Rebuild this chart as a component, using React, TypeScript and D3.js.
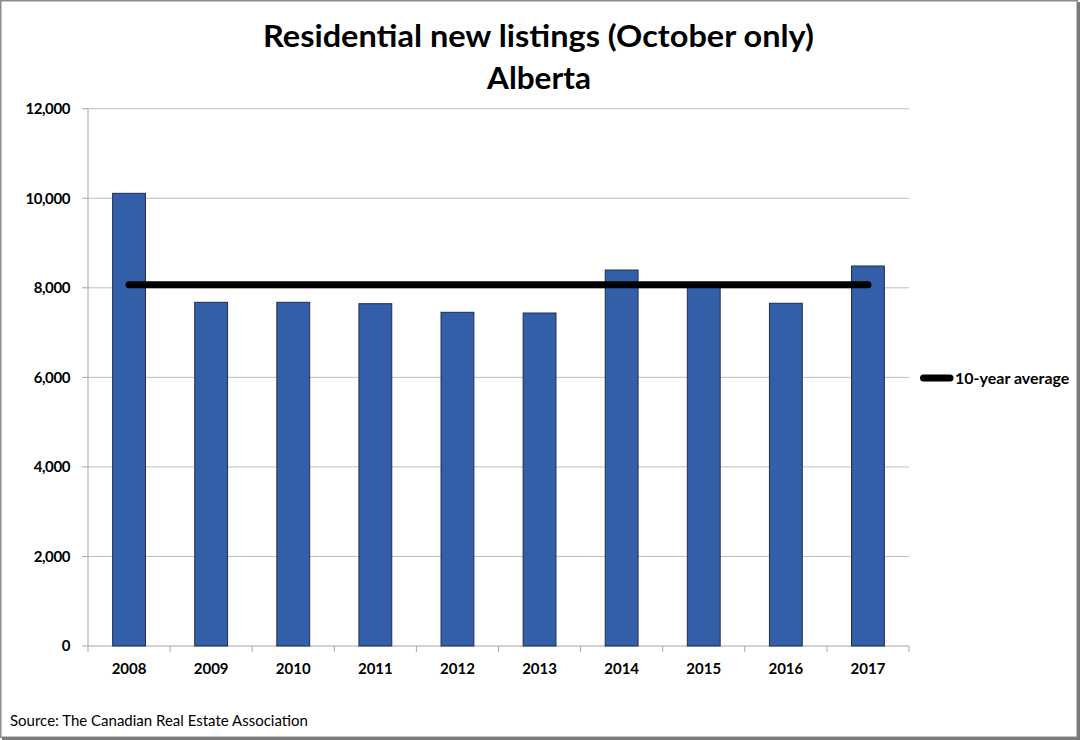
import React from "react";
import * as d3 from "d3";

const years = ["2008", "2009", "2010", "2011", "2012", "2013", "2014", "2015", "2016", "2017"];
const newListings = [10110, 7676, 7676, 7645, 7453, 7437, 8397, 8080, 7654, 8487];
const tenYearAverage = 8069;
const yTicks = [0, 2000, 4000, 6000, 8000, 10000, 12000];
const titleLines = ["Residential new listings (October only)", "Alberta"];
const legendLabel = "10-year average";
const sourceText = "Source: The Canadian Real Estate Association";

const W = 1080;
const H = 740;
const FONT = "Lato, 'Open Sans', sans-serif";

export default function App() {
  const left = 88, right = 909, top = 108.7, bottom = 646;
  const x = d3.scaleBand<string>().domain(years).range([left, right]).paddingInner(0.6).paddingOuter(0.3);
  const y = d3.scaleLinear().domain([0, 12000]).range([bottom, top]);
  const fmt = d3.format(",");
  const step = x.step();
  const first = x(years[0])! + x.bandwidth() / 2;
  const last = x(years[years.length - 1])! + x.bandwidth() / 2;
  const avgLine = d3.line<number>()((
    [[first, y(tenYearAverage)], [last, y(tenYearAverage)]] as any
  ));

  return (
    <div style={{ position: "absolute", left: 0, top: 0 }}>
      <svg width={W} height={H} style={{ display: "block" }} fontFamily={FONT}>
        <rect x={0} y={0} width={W} height={H} fill="#ffffff" />
        {/* frame */}
        <rect x={0.75} y={0.75} width={W - 3.5} height={H - 3.5} fill="none" stroke="#8c8c8c" strokeWidth={1.5} />
        <line x1={W - 1.5} y1={2} x2={W - 1.5} y2={H} stroke="#7a7a7a" strokeWidth={3} />
        <line x1={2} y1={H - 1.5} x2={W} y2={H - 1.5} stroke="#7a7a7a" strokeWidth={3} />

        {/* title */}
        <text x={538.5} y={47} textAnchor="middle" fontSize={31} fontWeight={700} fill="#000"
          textLength={551} lengthAdjust="spacingAndGlyphs">{titleLines[0]}</text>
        <text x={539} y={89} textAnchor="middle" fontSize={31} fontWeight={700} fill="#000"
          textLength={104} lengthAdjust="spacingAndGlyphs">{titleLines[1]}</text>

        {/* gridlines */}
        {yTicks.map((t) => (
          <g key={t}>
            {t > 0 && (
              <line x1={left} x2={right} y1={y(t)} y2={y(t)} stroke="#bfbfbf" strokeWidth={1} />
            )}
            <line x1={left - 6} x2={left} y1={y(t)} y2={y(t)} stroke="#a6a6a6" strokeWidth={1} />
            <text x={70} y={y(t)} dy="0.35em" textAnchor="end" fontSize={15} fontWeight={700} fill="#000"
              letterSpacing={-0.4}>
              {fmt(t)}
            </text>
          </g>
        ))}

        {/* axes */}
        <line x1={left} x2={left} y1={top} y2={bottom} stroke="#a6a6a6" strokeWidth={1} />
        <line x1={left} x2={right} y1={bottom} y2={bottom} stroke="#a6a6a6" strokeWidth={1} />
        {d3.range(years.length + 1).map((i) => {
          const xx = left + i * step;
          return <line key={i} x1={xx} x2={xx} y1={bottom} y2={bottom + 6} stroke="#a6a6a6" strokeWidth={1} />;
        })}
        {years.map((yr) => (
          <text key={yr} x={x(yr)! + x.bandwidth() / 2} y={674} textAnchor="middle" fontSize={15} fontWeight={700} fill="#000">
            {yr}
          </text>
        ))}

        {/* bars */}
        {years.map((yr, i) => (
          <rect key={yr} x={x(yr)!} y={y(newListings[i])} width={x.bandwidth()} height={bottom - y(newListings[i])}
            fill="#335ea8" stroke="#1f2d4f" strokeWidth={1} />
        ))}

        {/* average line */}
        <path d={avgLine || ""} stroke="#000" strokeWidth={7} strokeLinecap="round" fill="none" />

        {/* legend */}
        <line x1={923.5} x2={950} y1={378} y2={378} stroke="#000" strokeWidth={7} strokeLinecap="round" />
        <text x={955} y={383.5} fontSize={16} fontWeight={700} fill="#000">{legendLabel}</text>

        {/* source */}
        <text x={10} y={726} fontSize={15} fill="#000">{sourceText}</text>
      </svg>
    </div>
  );
}
